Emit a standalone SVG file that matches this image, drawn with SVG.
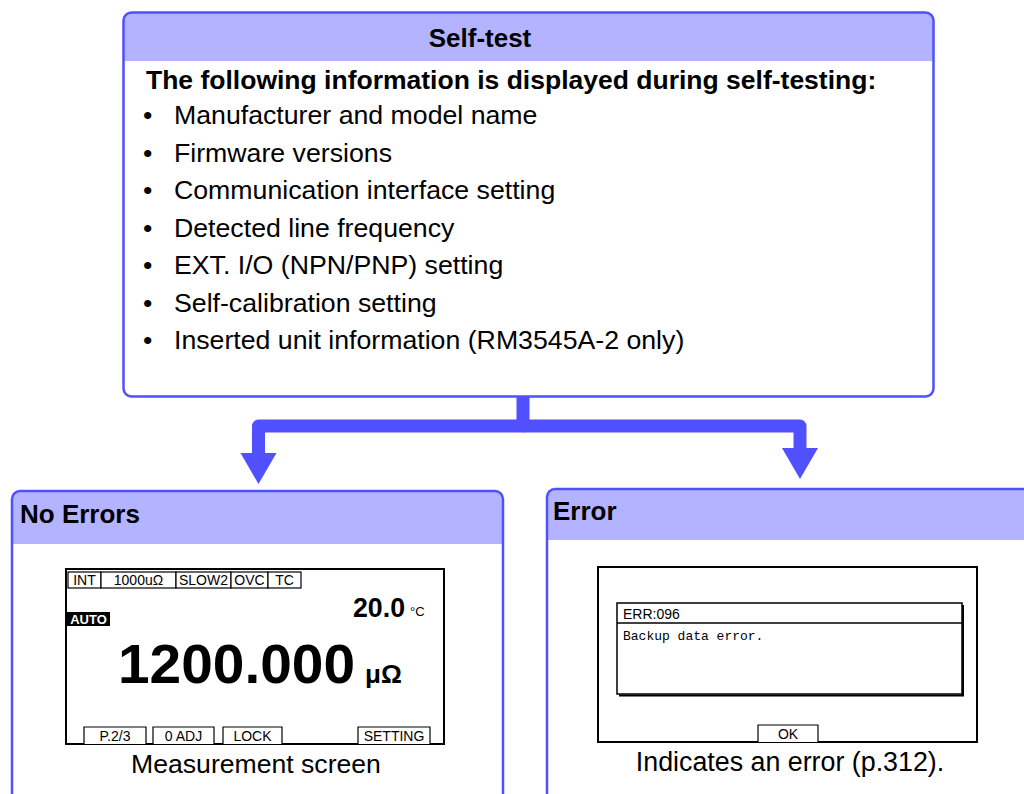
<svg xmlns="http://www.w3.org/2000/svg" width="1024" height="794" viewBox="0 0 1024 794">
<defs>
<style>
.frame{fill:none;stroke:#5050ff;stroke-width:2.5}
.hdr{fill:#b3b3ff}
.t{font-family:"Liberation Sans",Arial,sans-serif;fill:#000}
.b{font-weight:bold}
.body{font-size:26.7px}
.lcd{font-family:"Liberation Sans",Arial,sans-serif;font-size:14px;fill:#000}
.mono{font-family:"Liberation Mono","DejaVu Sans Mono",monospace;font-size:13px;fill:#000}
.scr{fill:#fff;stroke:#000;stroke-width:2}
.tag{fill:#fff;stroke:#000;stroke-width:1.2}
.conn{fill:none;stroke:#5050ff;stroke-width:13;stroke-linejoin:round}
</style>
<marker id="ah" markerUnits="userSpaceOnUse" markerWidth="32" markerHeight="38" viewBox="0 -19 32 38" refX="0" refY="0" orient="auto">
<path d="M0,-18 L31,0 L0,18 z" fill="#5050ff"/>
</marker>
</defs>
<rect width="1024" height="794" fill="#fff"/>

<g id="selftest">
<rect x="123.5" y="12.5" width="810" height="384" rx="8" fill="#fff"/>
<path class="hdr" d="M123.5,61 V20.5 A8,8 0 0 1 131.5,12.5 H925.5 A8,8 0 0 1 933.5,20.5 V61 z"/>
<rect class="frame" x="123.5" y="12.5" width="810" height="384" rx="8"/>
<text class="t b" x="480" y="47" font-size="26" text-anchor="middle">Self-test</text>
<text class="t b" x="146" y="89" font-size="26.5">The following information is displayed during self-testing:</text>
<g class="t body">
<text x="143" y="124">•</text><text x="174" y="124">Manufacturer and model name</text>
<text x="143" y="162">•</text><text x="174" y="162">Firmware versions</text>
<text x="143" y="199">•</text><text x="174" y="199">Communication interface setting</text>
<text x="143" y="237">•</text><text x="174" y="237">Detected line frequency</text>
<text x="143" y="274">•</text><text x="174" y="274">EXT. I/O (NPN/PNP) setting</text>
<text x="143" y="312">•</text><text x="174" y="312">Self-calibration setting</text>
<text x="143" y="349">•</text><text x="174" y="349">Inserted unit information (RM3545A-2 only)</text>
</g>
</g>

<g id="connectors">
<path class="conn" d="M523,397 V426 H258.5 V453" marker-end="url(#ah)"/>
<path class="conn" d="M523,426 H800 V448" marker-end="url(#ah)"/>
</g>

<g id="noerrors">
<rect x="12" y="491" width="491" height="320" rx="8" fill="#fff"/>
<path class="hdr" d="M12,544 V499 A8,8 0 0 1 20,491 H495 A8,8 0 0 1 503,499 V544 z"/>
<rect class="frame" x="12" y="491" width="491" height="320" rx="8"/>
<text class="t b" x="20" y="523" font-size="26">No Errors</text>
<rect class="scr" x="66" y="569" width="378" height="175"/>
<g class="lcd">
<rect class="tag" x="68" y="572" width="33" height="16"/><text x="84.5" y="585" text-anchor="middle">INT</text>
<rect class="tag" x="101" y="572" width="75" height="16"/><text x="138.5" y="585" text-anchor="middle">1000uΩ</text>
<rect class="tag" x="176" y="572" width="55" height="16"/><text x="203.5" y="585" text-anchor="middle">SLOW2</text>
<rect class="tag" x="231" y="572" width="37" height="16"/><text x="249.5" y="585" text-anchor="middle">OVC</text>
<rect class="tag" x="268" y="572" width="33" height="16"/><text x="284.5" y="585" text-anchor="middle">TC</text>
<rect x="67" y="612" width="43" height="14" fill="#000"/><text x="88.5" y="624" text-anchor="middle" fill="#fff" font-weight="bold" font-size="13">AUTO</text>
<text x="353" y="617" font-size="27" font-weight="bold" textLength="52" lengthAdjust="spacingAndGlyphs">20.0</text>
<text x="410" y="616" font-size="13">°C</text>
<text x="118" y="683" font-size="56" font-weight="bold" textLength="237" lengthAdjust="spacingAndGlyphs">1200.000</text>
<text x="365" y="683" font-size="26" font-weight="bold">μΩ</text>
<path class="tag" d="M84,744 V727 H146 V744"/><text x="115" y="741" text-anchor="middle">P.2/3</text>
<path class="tag" d="M153,744 V727 H214 V744"/><text x="183.5" y="741" text-anchor="middle">0 ADJ</text>
<path class="tag" d="M223,744 V727 H282 V744"/><text x="252.5" y="741" text-anchor="middle">LOCK</text>
<path class="tag" d="M358,744 V727 H430 V744"/><text x="394" y="741" text-anchor="middle">SETTING</text>
</g>
<text class="t" x="256" y="773" font-size="26.6" text-anchor="middle">Measurement screen</text>
</g>

<g id="error">
<rect x="547" y="489" width="490" height="320" rx="8" fill="#fff"/>
<path class="hdr" d="M547,540 V497 A8,8 0 0 1 555,489 H1037 V540 z"/>
<rect class="frame" x="547" y="489" width="490" height="320" rx="8"/>
<text class="t b" x="553" y="520" font-size="26">Error</text>
<rect class="scr" x="598" y="567" width="379" height="175"/>
<rect x="617" y="603" width="345" height="91" fill="#fff" stroke="#000" stroke-width="1.5"/>
<path d="M963,605 V695.5 H619" fill="none" stroke="#000" stroke-width="2"/>
<line x1="617" y1="623" x2="962" y2="623" stroke="#000" stroke-width="1.5"/>
<text class="lcd" x="623" y="619" font-size="13">ERR:096</text>
<text class="mono" x="623" y="640">Backup data error.</text>
<path class="tag" d="M758,742 V725 H818 V742"/><text class="lcd" x="788" y="739" text-anchor="middle" font-size="13">OK</text>
<text class="t" x="790" y="771" font-size="26.8" text-anchor="middle">Indicates an error (p.312).</text>
</g>
</svg>
